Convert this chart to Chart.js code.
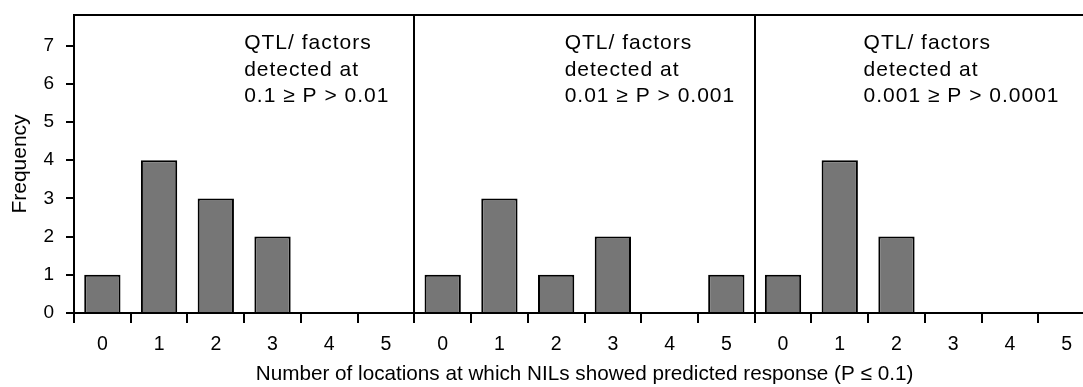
<!DOCTYPE html>
<html>
<head>
<meta charset="utf-8">
<script src="https://cdn.jsdelivr.net/npm/chart.js@4"></script>
<style>
  html, body { margin: 0; padding: 0; background: #fff; overflow: hidden; }
  #wrap { width: 1100px; height: 387px; }
</style>
</head>
<body>
<div id="wrap"><canvas id="myChart" width="1100" height="387"></canvas></div>
<script>
// number of locations, repeated for each of the three panels
var locations = ['0', '1', '2', '3', '4', '5'];
var panel1 = [1, 4, 3, 2, 0, 0];   // 0.1 >= P > 0.01
var panel2 = [1, 3, 1, 2, 0, 1];   // 0.01 >= P > 0.001
var panel3 = [1, 4, 2, 0, 0, 0];   // 0.001 >= P > 0.0001
var notes = [
  ['QTL/ factors', 'detected at', '0.1 \u2265 P > 0.01'],
  ['QTL/ factors', 'detected at', '0.01 \u2265 P > 0.001'],
  ['QTL/ factors', 'detected at', '0.001 \u2265 P > 0.0001']
];

var labels = locations.concat(locations, locations);
var values = panel1.concat(panel2, panel3);

var font = "'Liberation Sans', Arial, sans-serif";
Chart.defaults.font.family = font;
Chart.defaults.font.size = 19;
Chart.defaults.color = '#000';

// top line of the frame + the panel captions
var framePlugin = {
  id: 'frame',
  afterDraw: function(chart) {
    var c = chart.ctx, a = chart.chartArea;
    var xs = chart.scales.x, ys = chart.scales.y;
    c.save();
    c.strokeStyle = '#000';
    c.lineWidth = 2;
    c.beginPath();
    c.moveTo(a.left - 1, a.top);
    c.lineTo(a.right, a.top);
    c.stroke();
    c.fillStyle = '#000';
    c.font = '21px ' + font;
    c.letterSpacing = '1px';
    c.textBaseline = 'middle';
    var starts = [2.5, 8.15, 13.42];
    notes.forEach(function(lines, p) {
      var x = xs.getPixelForValue(starts[p]);
      lines.forEach(function(t, i) {
        c.fillText(t, x, ys.getPixelForValue(7.05) + i * 26.5);
      });
    });
    c.restore();
  }
};

var ctx = document.getElementById('myChart').getContext('2d');
var myChart = new Chart(ctx, {
  type: 'bar',
  data: {
    labels: labels,
    datasets: [{
      data: values,
      backgroundColor: '#767676',
      borderColor: '#000',
      borderWidth: 2,
      categoryPercentage: 1,
      barPercentage: 0.64
    }]
  },
  options: {
    responsive: false,
    animation: false,
    layout: { padding: { top: 15, right: 5, left: 0, bottom: 0 } },
    plugins: {
      legend: { display: false },
      tooltip: { enabled: false }
    },
    scales: {
      x: {
        offset: true,
        afterFit: function(s) { s.height = 74; },
        grid: {
          offset: true,
          drawOnChartArea: true,
          color: function(c) { return (c.index === 6 || c.index === 12) ? '#000' : 'rgba(0,0,0,0)'; },
          lineWidth: 2,
          tickColor: '#000',
          tickLength: 10
        },
        border: { color: '#000', width: 2 },
        ticks: { color: '#000', padding: 10, font: { size: 19.5 }, maxRotation: 0, autoSkip: false },
        title: {
          display: true,
          text: 'Number of locations at which NILs showed predicted response (P \u2264 0.1)',
          color: '#000',
          font: { size: 20.7 },
          padding: { top: 1, bottom: 0 }
        }
      },
      y: {
        min: 0,
        max: 7.8,
        afterFit: function(s) { s.width = 74; s.paddingTop = 0; s.paddingBottom = 0; },
        afterBuildTicks: function(s) {
          s.ticks = s.ticks.filter(function(t) { return Number.isInteger(t.value); });
        },
        grid: { drawOnChartArea: false, tickColor: '#000', tickLength: 8, lineWidth: 2 },
        border: { color: '#000', width: 2 },
        ticks: { stepSize: 1, color: '#000', padding: 12, font: { size: 19 } },
        title: {
          display: true,
          text: 'Frequency',
          color: '#000',
          font: { size: 21 },
          padding: { top: 8, bottom: 0 }
        }
      }
    }
  },
  plugins: [framePlugin]
});
</script>
</body>
</html>
